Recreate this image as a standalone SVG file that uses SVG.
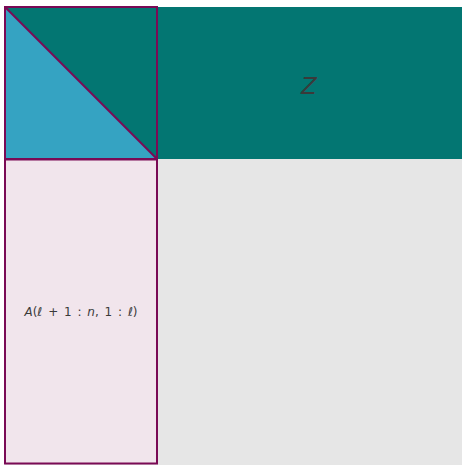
<svg xmlns="http://www.w3.org/2000/svg" width="466" height="465" viewBox="0 0 466 465">
<style>
.outline{fill:none;stroke:#7a0a55;stroke-width:2}
.lbl{font-family:"DejaVu Sans","Liberation Sans",sans-serif;fill:#3a3a3a}
</style>
<rect x="0" y="0" width="466" height="465" fill="#ffffff"/>
<g id="background">
<rect x="5" y="159" width="457" height="306" fill="#e6e6e6"/>
</g>
<g id="Z">
<rect x="5" y="7" width="457" height="152" fill="#037672"/>
<text class="lbl" x="309" y="94" font-size="23" font-style="italic" text-anchor="middle">Z</text>
</g>
<g id="triangle">
<polygon points="5,7 5,159 157,159" fill="#35a3c2"/>
</g>
<g id="block">
<rect x="5" y="159" width="152" height="305" fill="#f1e5ec"/>
<text class="lbl" x="81" y="316" font-size="12" word-spacing="2" text-anchor="middle"><tspan font-style="italic">A</tspan>(<tspan font-style="italic">ℓ</tspan> + 1 : <tspan font-style="italic">n</tspan>, 1 : <tspan font-style="italic">ℓ</tspan>)</text>
</g>
<g id="connectors">
<rect class="outline" x="5" y="7" width="152" height="152"/>
<line class="outline" x1="5" y1="7" x2="157" y2="159"/>
<rect class="outline" x="5" y="159.5" width="152" height="304"/>
</g>
</svg>
